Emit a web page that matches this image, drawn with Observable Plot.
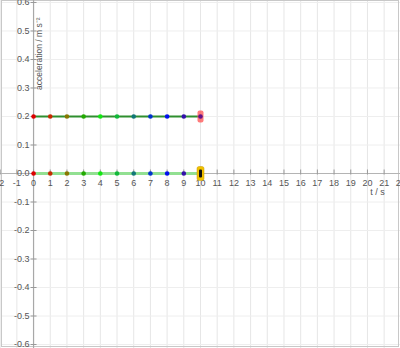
<!DOCTYPE html>
<html>
<head>
<meta charset="utf-8">
<script src="https://cdn.jsdelivr.net/npm/d3@7"></script>
<script src="https://cdn.jsdelivr.net/npm/@observablehq/plot@0.6"></script>
<style>
  html, body { margin: 0; padding: 0; background: #fff; }
  svg { display: block; }
</style>
</head>
<body>
<div id="chart"></div>
<script>
const times = [0, 1, 2, 3, 4, 5, 6, 7, 8, 9, 10];
const accelValues = [0.2, 0.2, 0.2, 0.2, 0.2, 0.2, 0.2, 0.2, 0.2, 0.2, 0.2];
const baseValues = [0, 0, 0, 0, 0, 0, 0, 0, 0, 0, 0];
const pointColors = ["#dd0000", "#c62a00", "#887700", "#22aa00", "#11e811", "#11b93a", "#117777", "#0033cc", "#0011ee", "#3311aa", "#661188"];
const xTicks = [-2, -1, 0, 1, 2, 3, 4, 5, 6, 7, 8, 9, 10, 11, 12, 13, 14, 15, 16, 17, 18, 19, 20, 21, 22];
const yTicks = [-0.6, -0.5, -0.4, -0.3, -0.2, -0.1, 0, 0.1, 0.2, 0.3, 0.4, 0.5, 0.6];
const yTitle = "acceleration / m s⁻²";
const xTitle = "t / s";

const accelData = times.map((t, i) => ({t, v: accelValues[i], c: pointColors[i]}));
const baseData = times.map((t, i) => ({t, v: baseValues[i], c: pointColors[i]}));
const last = times.length - 1;

const sym = (fn) => ({draw(ctx) { fn(ctx); }});
const vTick = sym(ctx => { ctx.moveTo(0, -4); ctx.lineTo(0, 1); });
const hTick = sym(ctx => { ctx.moveTo(-3, 0); ctx.lineTo(3, 0); });
const roundRect = (w, h, r) => sym(ctx => {
  const x0 = -w / 2, y0 = -h / 2, x1 = w / 2, y1 = h / 2;
  ctx.moveTo(x0 + r, y0);
  ctx.lineTo(x1 - r, y0); ctx.arcTo(x1, y0, x1, y0 + r, r);
  ctx.lineTo(x1, y1 - r); ctx.arcTo(x1, y1, x1 - r, y1, r);
  ctx.lineTo(x0 + r, y1); ctx.arcTo(x0, y1, x0, y1 - r, r);
  ctx.lineTo(x0, y0 + r); ctx.arcTo(x0, y0, x0 + r, y0, r);
  ctx.closePath();
});
const fmtY = v => v.toFixed(1);
const font = "'Liberation Sans', Arial, sans-serif";

const chart = Plot.plot({
  width: 400,
  height: 348,
  margin: 0,
  style: {background: "#fff", fontFamily: font},
  x: {domain: [-1.98, 21.98], axis: null},
  y: {domain: [-0.614, 0.607], axis: null},
  marks: [
    Plot.ruleX(xTicks, {stroke: "#e6e6e6", strokeWidth: 1, strokeOpacity: 1}),
    Plot.ruleY(yTicks, {stroke: "#eeeeee", strokeWidth: 1, strokeOpacity: 1}),
    Plot.frame({stroke: "#c8c8c8", insetLeft: 1, insetRight: 2, insetBottom: 2}),
    Plot.ruleX([0], {stroke: "#a8a8a8", strokeWidth: 1.2}),
    Plot.ruleY([0], {stroke: "#b4b4b4", strokeWidth: 1.2}),
    Plot.dot(xTicks, {x: d => d, y: () => 0, symbol: vTick, stroke: "#999", fill: "none", strokeWidth: 1}),
    Plot.dot(yTicks, {x: () => 0, y: d => d, symbol: hTick, stroke: "#999", fill: "none", strokeWidth: 1}),
    Plot.text(xTicks, {x: d => d, y: () => 0, text: d => String(d), dy: 10, fill: "#555", fontSize: 9, fontFamily: font}),
    Plot.text(yTicks, {x: () => 0, y: d => d, text: fmtY, dx: -4, textAnchor: "end", fill: "#555", fontSize: 9, fontFamily: font}),
    Plot.line(baseData, {x: "t", y: "v", stroke: "#92e092", strokeWidth: 3}),
    Plot.line(accelData, {x: "t", y: "v", stroke: "#2f8f2f", strokeWidth: 2}),
    Plot.dot([accelData[last]], {x: "t", y: "v", symbol: roundRect(6, 12, 2), fill: "#ff5a5a", fillOpacity: 0.8, stroke: "none"}),
    Plot.dot(accelData, {x: "t", y: "v", r: 2.3, fill: "c", stroke: "none"}),
    Plot.dot(baseData, {x: "t", y: "v", r: 2.3, fill: "c", stroke: "none"}),
    Plot.dot([baseData[last]], {x: "t", y: "v", symbol: roundRect(7, 14, 2), fill: "#f2c200", stroke: "#c89a00", strokeWidth: 0.5}),
    Plot.dot([baseData[last]], {x: "t", y: "v", symbol: roundRect(3, 8, 1), fill: "#111", stroke: "none"}),
    Plot.text([yTitle], {x: () => 0, y: () => 0.6, dx: 6, dy: 15, rotate: -90, textAnchor: "end", fill: "#555", fontSize: 8.5, fontFamily: font}),
    Plot.text([xTitle], {x: () => 20.6, y: () => 0, dy: 19, fill: "#555", fontSize: 9, fontFamily: font})
  ]
});
document.getElementById("chart").appendChild(chart);
</script>
</body>
</html>
